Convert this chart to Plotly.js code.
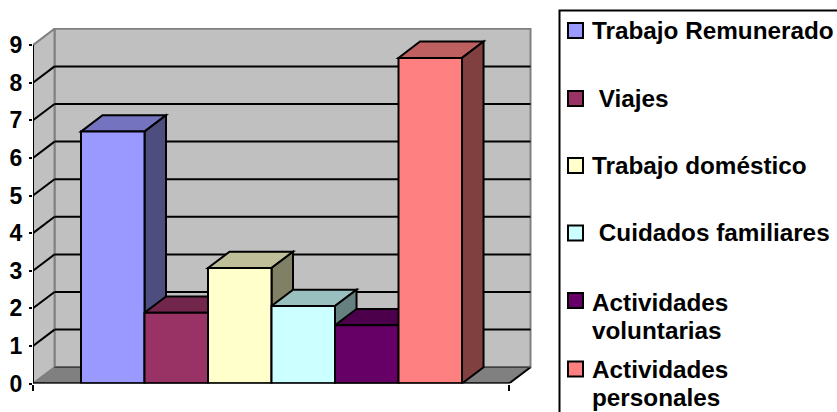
<!DOCTYPE html>
<html>
<head>
<meta charset="utf-8">
<script src="https://cdn.plot.ly/plotly-3.0.1.min.js"></script>
<style>html,body{margin:0;padding:0;background:#fff;overflow:hidden}#c{width:837px;height:412px}</style>
</head>
<body>
<div id="c"></div>
<script>
const seriesNames = ['Trabajo Remunerado', '\u00a0Viajes', 'Trabajo doméstico', '\u00a0Cuidados familiares', 'Actividades<br>voluntarias', 'Actividades<br>personales'];
const seriesValues = [6.7, 1.88, 3.07, 2.06, 1.55, 8.66];
const frontColors = ['#9999FF', '#993366', '#FFFFCC', '#CCFFFF', '#660066', '#FF8080'];
const topColors = ['#7373BF', '#73264C', '#BFBF99', '#99BFBF', '#4C004C', '#BF6060'];
const sideColors = ['#4D4D80', '#4D1A33', '#808066', '#668080', '#330033', '#804040'];
const yTicks = [0, 1, 2, 3, 4, 5, 6, 7, 8, 9];

const W = 837, H = 412;
const legendRows = [30.5, 98.5, 165.5, 233, 300.5, 369];
const legendTextY = [31, 98.7, 165.5, 232.7, 302, 369];
const legendLineGap = 28;
const legendTextX = 591;

// axis geometry
const xLeft = -1.256, xRight = 6.24, dx = 0.339, dy = 0.434, yMax = 9;
const P = (a) => 'M' + a.map(p => p[0] + ',' + p[1]).join(' L') + ' Z';
const data = seriesValues.map((v, i) => ({
  type: 'bar', name: seriesNames[i].replace('<br>', ' '), x: [i], y: [v], width: 1,
  marker: {color: frontColors[i], line: {color: '#000', width: 2}},
  hoverinfo: 'name+y', showlegend: false
}));

const shapes = [];
const poly = (pts, fill, lc, lw) => shapes.push({type: 'path', xref: 'x', yref: 'y', layer: 'below', path: P(pts),
  fillcolor: fill, line: {color: lc, width: lw}});
const seg = (x0, y0, x1, y1, c, w, layer) => shapes.push({type: 'line', xref: 'x', yref: 'y', layer: layer || 'below', x0, y0, x1, y1, line: {color: c, width: w}});

// walls & floor
poly([[xLeft + dx, dy], [xRight + dx, dy], [xRight + dx, yMax + dy], [xLeft + dx, yMax + dy]], '#C0C0C0', '#808080', 2);
poly([[xLeft, 0], [xLeft + dx, dy], [xLeft + dx, yMax + dy], [xLeft, yMax]], '#C0C0C0', '#808080', 2);
poly([[xLeft, 0], [xRight, 0], [xRight + dx, dy], [xLeft + dx, dy]], '#808080', '#808080', 1);
seg(xRight, 0, xRight + dx, dy, '#000', 2);
seg(xLeft + dx, dy, xRight + dx, dy, '#404040', 1.5);
yTicks.slice(1, -1).forEach(t => {
  seg(xLeft, t, xLeft + dx, t + dy, '#000', 2);
  seg(xLeft + dx, t + dy, xRight + dx, t + dy, '#000', 2);
});
// bar depth faces
seriesValues.forEach((v, i) => {
  const a = i - 0.5, b = i + 0.5;
  poly([[a, v], [b, v], [b + dx, v + dy], [a + dx, v + dy]], topColors[i], '#000', 2);
  poly([[b, 0], [b + dx, dy], [b + dx, v + dy], [b, v]], sideColors[i], '#000', 2);
});
// axes
seg(xLeft, 0, xRight, 0, '#000', 2.5, 'above');
seg(xLeft, 0, xLeft, yMax, '#000', 2, 'above');

// legend frame and swatches
shapes.push({type: 'path', xref: 'paper', yref: 'paper', path: `M${559.5 / W},0 L${559.5 / W},${1 - 10.5 / H} L1,${1 - 10.5 / H}`, line: {color: '#000', width: 2}});
const annotations = [];
seriesNames.forEach((n, i) => {
  const c = legendRows[i];
  shapes.push({type: 'rect', xref: 'paper', yref: 'paper', x0: 568 / W, x1: 583 / W, y0: 1 - (c + 7.5) / H, y1: 1 - (c - 7.5) / H,
    fillcolor: frontColors[i], line: {color: '#000', width: 2}});
  n.split('<br>').forEach((line, k) => annotations.push({
    xref: 'paper', yref: 'paper', x: legendTextX / W, y: 1 - (legendTextY[i] + k * legendLineGap) / H, xanchor: 'left', yanchor: 'middle', align: 'left',
    showarrow: false, text: line, borderpad: 0, font: {family: 'Liberation Sans, Arial, sans-serif', size: 24.3, weight: 'bold', color: '#000'}}));
});

const layout = {
  width: W, height: H, margin: {l: 0, r: 0, t: 0, b: 0},
  paper_bgcolor: '#fff', plot_bgcolor: 'rgba(0,0,0,0)', showlegend: false, barmode: 'overlay',
  xaxis: {domain: [33 / W, 532 / W], range: [xLeft, xLeft + 499 / 63.5], showgrid: false, zeroline: false, showline: false,
    tickmode: 'array', tickvals: [xLeft, xRight], ticktext: ['', ''], ticks: 'outside', ticklen: 6, tickwidth: 2, tickcolor: '#000', fixedrange: true},
  yaxis: {domain: [(H - 383.5) / H, (H - 28) / H], range: [0, 355.5 / 37.6], showgrid: false, zeroline: false, showline: false,
    tickmode: 'array', tickvals: yTicks, ticks: 'outside', ticklen: 3, tickwidth: 2, tickcolor: '#000', ticklabelstandoff: 2,
    tickfont: {family: 'Liberation Sans, Arial, sans-serif', size: 23, weight: 'bold', color: '#000'}, fixedrange: true},
  shapes, annotations
};
Plotly.newPlot('c', data, layout, {displayModeBar: false, staticPlot: true});
</script>
</body>
</html>
